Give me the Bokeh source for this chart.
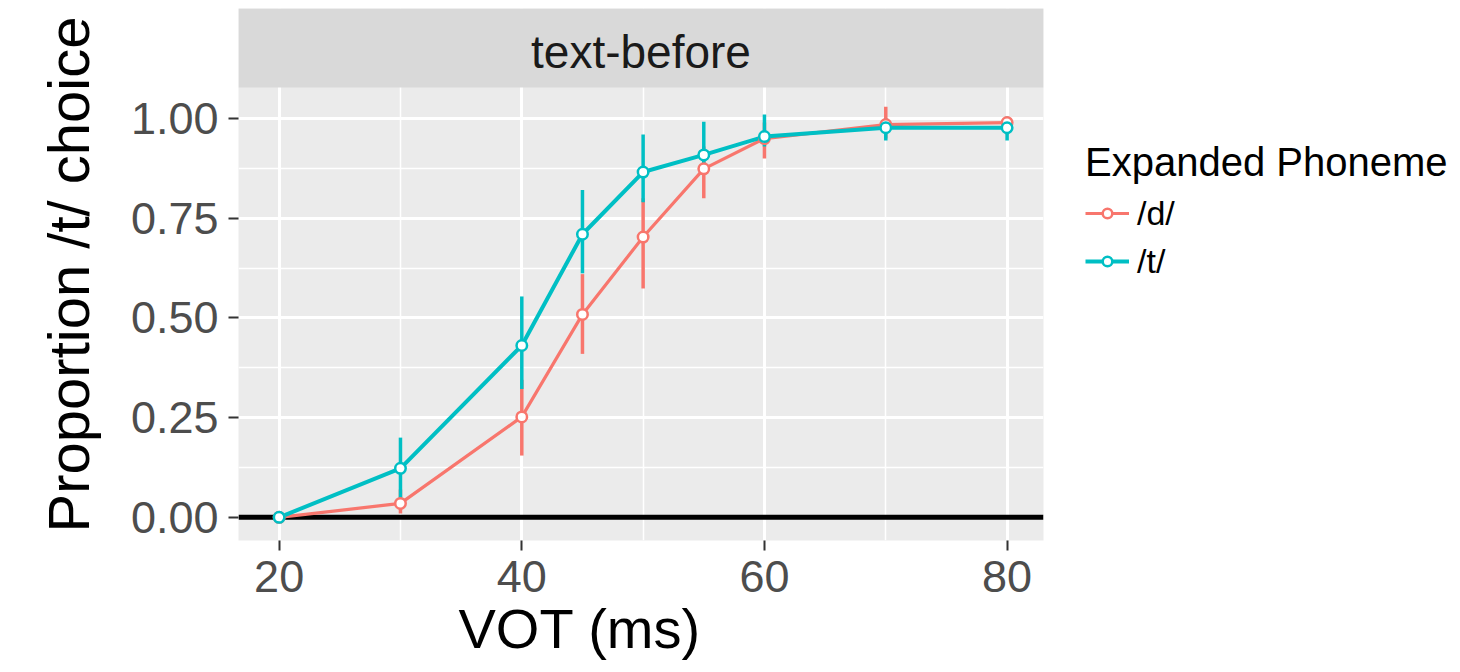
from bokeh.plotting import figure
from bokeh.models import (ColumnDataSource, FixedTicker, NumeralTickFormatter, Span,
                          Legend, LegendItem, Label, Range1d, BoxAnnotation, Title)
from bokeh.embed import file_html
from bokeh.resources import INLINE

# ---------------- data ----------------
vot = [20, 30, 40, 45, 50, 55, 60, 70, 80]
d_mean = [0.0, 0.035, 0.252, 0.509, 0.703, 0.874, 0.950, 0.985, 0.990]
d_lo = [0.0, 0.010, 0.155, 0.410, 0.574, 0.800, 0.900, 0.950, 0.960]
d_hi = [0.01, 0.070, 0.345, 0.610, 0.800, 0.930, 0.990, 1.030, 1.000]
t_mean = [0.0, 0.123, 0.431, 0.710, 0.866, 0.909, 0.955, 0.977, 0.977]
t_lo = [0.0, 0.045, 0.322, 0.612, 0.790, 0.875, 0.930, 0.945, 0.945]
t_hi = [0.01, 0.200, 0.554, 0.821, 0.960, 0.992, 1.010, 1.000, 1.005]
x_ticks = [20, 40, 60, 80]
x_minor = [30, 50, 70]
y_ticks = [0.0, 0.25, 0.50, 0.75, 1.00]
y_minor = [0.125, 0.375, 0.625, 0.875]
hline_y = 0.0
facet_label = "text-before"
x_title = "VOT (ms)"
y_title = "Proportion /t/ choice"
legend_title = "Expanded Phoneme"
series_labels = ["/d/", "/t/"]

RED = "#F8766D"
TEAL = "#00BFC4"
FONT = "Liberation Sans"

# panel geometry (data units)
X_RANGE = (16.65, 83.0)
PANEL_Y = (-0.058, 1.078)
PANEL_PX = 453
STRIP_PX = 79
px_per_unit = PANEL_PX / (PANEL_Y[1] - PANEL_Y[0])
strip_top = PANEL_Y[1] + STRIP_PX / px_per_unit

p = figure(frame_width=805, frame_height=PANEL_PX + STRIP_PX,
           x_range=Range1d(*X_RANGE), y_range=Range1d(PANEL_Y[0], strip_top),
           output_backend="svg", toolbar_location=None,
           min_border_left=238, min_border_right=417,
           min_border_top=8, min_border_bottom=132)
p.background_fill_color = "#EBEBEB"
p.border_fill_color = "white"
p.outline_line_color = None

p.xaxis.ticker = FixedTicker(ticks=x_ticks, minor_ticks=x_minor)
p.yaxis.ticker = FixedTicker(ticks=y_ticks, minor_ticks=y_minor)
p.yaxis.formatter = NumeralTickFormatter(format="0.00")

for g in (p.xgrid, p.ygrid):
    g.grid_line_color = "white"
    g.grid_line_width = 3
    g.minor_grid_line_color = "white"
    g.minor_grid_line_width = 1.5

for ax in (p.xaxis, p.yaxis):
    ax.axis_line_color = None
    ax.major_tick_line_color = "#333333"
    ax.major_tick_line_width = 2
    ax.major_tick_out = 10
    ax.major_tick_in = 0
    ax.minor_tick_line_color = None
    ax.major_label_text_font = FONT
    ax.major_label_text_font_size = "45px"
    ax.major_label_text_color = "#4D4D4D"
    ax.axis_label_text_font = FONT
    ax.axis_label_text_font_size = "58px"
    ax.axis_label_text_font_style = "normal"
    ax.axis_label_text_color = "black"

p.yaxis.axis_label = y_title
p.xaxis.major_label_standoff = 10
p.yaxis.major_label_standoff = 10
p.yaxis.axis_label_standoff = 27

# x-axis title (placed as in the reference, left of panel centre)
p.add_layout(Title(text=x_title, align="left", offset=220, standoff=0,
                   text_font=FONT, text_font_size="56px", text_font_style="normal",
                   text_color="black"), "below")

span = Span(location=hline_y, dimension="width", line_color="black", line_width=5,
            level="underlay")
p.add_layout(span)

src_d = ColumnDataSource(dict(x=vot, y=d_mean, lo=d_lo, hi=d_hi))
src_t = ColumnDataSource(dict(x=vot, y=t_mean, lo=t_lo, hi=t_hi))

d_line = p.line("x", "y", source=src_d, line_color=RED, line_width=3.2)
t_line = p.line("x", "y", source=src_t, line_color=TEAL, line_width=4)
p.segment(x0="x", y0="lo", x1="x", y1="hi", source=src_d, line_color=RED, line_width=3.5)
p.segment(x0="x", y0="lo", x1="x", y1="hi", source=src_t, line_color=TEAL, line_width=3.5)
d_pts = p.scatter("x", "y", source=src_d, marker="circle", size=10.5,
                  fill_color="white", line_color=RED, line_width=2.5)
t_pts = p.scatter("x", "y", source=src_t, marker="circle", size=10.5,
                  fill_color="white", line_color=TEAL, line_width=2.5)

# facet strip
strip = BoxAnnotation(bottom=PANEL_Y[1], fill_color="#D9D9D9", fill_alpha=1.0,
                      line_color=None)
p.add_layout(strip)
p.add_layout(Label(x=(X_RANGE[0] + X_RANGE[1]) / 2,
                   y=PANEL_Y[1] + 0.45 * (strip_top - PANEL_Y[1]),
                   text=facet_label, text_align="center", text_baseline="middle",
                   text_font=FONT, text_font_size="46px", text_color="#1A1A1A"))

legend = Legend(
    items=[LegendItem(label=series_labels[0], renderers=[d_line, d_pts]),
           LegendItem(label=series_labels[1], renderers=[t_line, t_pts])],
    title=legend_title,
    location=(42, 255),
    title_text_font=FONT, title_text_font_size="40px", title_text_font_style="normal",
    title_text_color="black", title_standoff=4,
    label_text_font=FONT, label_text_font_size="34px", label_text_color="black",
    glyph_width=44, glyph_height=24, label_height=48, label_standoff=8,
    spacing=0, padding=0, margin=0,
    border_line_color=None, background_fill_alpha=0,
)
p.add_layout(legend, "right")

open("out.html", "w").write(file_html(p, INLINE))
